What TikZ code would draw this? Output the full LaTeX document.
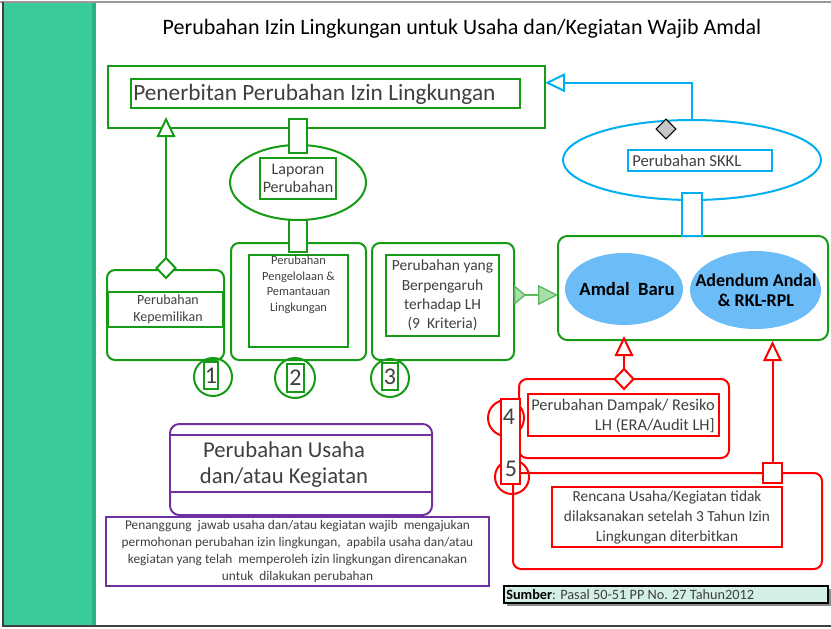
\documentclass[tikz,border=0pt]{standalone}
\usepackage{fontspec}
\setmainfont{Carlito}
\usetikzlibrary{arrows.meta,shapes.geometric,calc}
\definecolor{G}{RGB}{22,155,22}
\definecolor{C}{RGB}{0,176,240}
\definecolor{R}{RGB}{255,0,0}
\definecolor{P}{RGB}{112,48,160}
\definecolor{TX}{RGB}{64,64,64}
\definecolor{band}{RGB}{58,203,154}
\definecolor{bandedge}{RGB}{44,176,134}
\definecolor{ellfill}{RGB}{108,188,248}
\definecolor{gfill}{RGB}{168,222,168}
\definecolor{gline}{RGB}{90,185,95}
\definecolor{srcfill}{RGB}{212,238,232}
\newcommand\fsz[2]{\fontsize{#1}{#2}\selectfont}
\tikzset{
  sz/.style 2 args={minimum width={#1*0.75pt},minimum height={#2*0.75pt}},
  base/.style={inner sep=0pt,outer sep=0pt,line width=1.5pt},
  gbox/.style={base,draw=G,fill=white},
  cbox/.style={base,draw=C,fill=white},
  rbox/.style={base,draw=R,fill=white},
  pbox/.style={base,draw=P,fill=white},
  rnd/.style={rounded corners=6pt},
  oval/.style={ellipse,inner sep=0pt,outer sep=0pt},
  txt/.style={text=TX,inner sep=0pt,align=center},
  hollow/.style={-{Triangle[length=15pt,width=14pt,fill=white]}},
  dia/.style={diamond,inner sep=0pt,outer sep=0pt,line width=1.5pt,fill=white,sz={19}{20}},
}
\begin{document}
\begin{tikzpicture}[x=0.75pt,y=-0.75pt]
\useasboundingbox (0,0) rectangle (831,628);
% page and side band
\fill[white] (0,0) rectangle (831,628);
\fill[band] (3,3) rectangle (96,626);
\fill[bandedge] (92,3) rectangle (96,626);
\draw[gray!80,line width=1.5pt] (0,2) -- (831,2);
\draw[black!75,line width=1.2pt] (3,2) -- (3,626) -- (831,626);

% title
\node[text=black,inner sep=0pt,font=\fsz{16.5}{18}] (title) at (462,29) {Perubahan Izin Lingkungan untuk Usaha dan/Kegiatan Wajib Amdal};

% issuing box
\node[gbox,sz={437}{62}] (pen) at (326.5,97) {};
\node[gbox,sz={389}{29}] (peni) at (325.5,93.5) {};
\node[txt,anchor=west,font=\fsz{17.5}{19}] (pent) at (133,94) {Penerbitan Perubahan Izin Lingkungan};

% report ellipse and its two connectors
\node[gbox,oval,sz={136}{75}] (lap) at (298,182.5) {};
\node[gbox,sz={18}{34}] (lapup) at (298,136) {};
\node[gbox,sz={76}{41},font=\fsz{12}{14},text=TX,align=center] (lapi) at (298,178.5) {Laporan\\Perubahan};

% 1: ownership change
\node[gbox,rnd,sz={117}{90}] (b1) at (165.5,315) {};
\node[gbox,sz={115}{35}] (b1i) at (165,309.5) {};
\node[txt,font=\fsz{10.5}{12.75}] (b1t) at (168,309) {Perubahan\\Kepemilikan};
\node[dia,draw=G] (d1) at (166,268) {};
\draw[G,line width=1.5pt,hollow] (d1.north) -- ($(pen.south -| d1)+(0,-11)$);

% 2: management and monitoring change
\node[gbox,rnd,sz={135}{117}] (b2) at (298.5,301.5) {};
\node[gbox,sz={99}{92}] (b2i) at (298.5,301) {};
\node[txt,anchor=north,font=\fsz{9.3}{11.6}] (b2t) at (298.5,256) {Perubahan\\Pengelolaan \&\\Pemantauan\\Lingkungan};
\node[gbox,sz={18}{32}] (lapdn) at (298,236) {};

% 3: significant change
\node[gbox,rnd,sz={142}{117}] (b3) at (443,301.5) {};
\node[gbox,sz={113}{81},font=\fsz{11.6}{14.5},text=TX,align=center] (b3i) at (442.5,295.5) {Perubahan yang\\Berpengaruh\\terhadap LH\\(9~ Kriteria)};

% numbered markers 1-3
\node[base,draw=G,circle,minimum size=28.5pt] (c1) at (213,377) {};
\node[gbox,fill=none,sz={14}{27},font=\fsz{18}{18},text=TX] (n1) at (211,375.5) {1};
\node[base,draw=G,circle,minimum size=30pt] (c2) at (295,378) {};
\node[gbox,fill=none,sz={17}{28},font=\fsz{18}{18},text=TX] (n2) at (295.5,378) {2};
\node[base,draw=G,circle,minimum size=28.5pt] (c3) at (390,378) {};
\node[gbox,fill=none,sz={16}{27},font=\fsz{18}{18},text=TX] (n3) at (390,376.5) {3};

% Amdal container
\node[gbox,rounded corners=7pt,sz={270}{104}] (amdal) at (693,288) {};
\node[oval,fill=ellfill,sz={118}{72}] (baru) at (624,289) {};
\node[oval,fill=ellfill,sz={131}{78}] (aden) at (755.5,290) {};
\node[inner sep=0pt,font=\bfseries\fsz{14}{15}] (barut) at (627,289) {Amdal~ Baru};
\node[inner sep=0pt,font=\bfseries\fsz{13.5}{15},align=center] (adent) at (756,290) {Adendum Andal\\\& RKL-RPL};
\draw[gline,line width=1pt,fill=gfill,
  {Triangle[reversed,length=9pt,width=15pt,fill=gfill]}-{Triangle[length=15pt,width=15pt,fill=gfill]}]
  ($(b3.east)+(0,-6.5)$) -- ($(amdal.west)+(0,7)$);

% SKKL ellipse
\node[cbox,oval,sz={258}{80}] (skkl) at (692,160) {};
\node[cbox,sz={144}{21}] (skkli) at (700,160.5) {};
\node[txt,anchor=west,font=\fsz{12.5}{14}] (skklt) at (632,160.5) {Perubahan SKKL};
\node[diamond,draw=black,fill=black!22,line width=0.8pt,inner sep=0pt,sz={20}{20}] (d0) at (666,129) {};
\node[cbox,sz={20}{43}] (skkldn) at (692,214.5) {};
\draw[C,line width=1.5pt,-{Triangle[length=15pt,width=14pt,fill=white]}]
  (skkl.north) |- ($(pen.north east)!0.27!(pen.south east)$);

% 4 and 5: impact change and plan not carried out
\node[rbox,rnd,sz={309}{96}] (b5) at (667.5,521) {};
\node[rbox,sz={230}{60},font=\fsz{11.5}{15},text=TX,align=center] (b5i) at (667,517) {Rencana Usaha/Kegiatan tidak\\dilaksanakan setelah 3 Tahun Izin\\Lingkungan diterbitkan};
\node[rbox,sz={19}{20}] (sq5) at (772.5,473) {};
\draw[R,line width=1.5pt,hollow] (sq5.north) -- ($(amdal.south -| sq5)+(0,1)$);

\node[rbox,rnd,sz={210}{79}] (b4) at (624,418.5) {};
\node[rbox,sz={191}{42}] (b4i) at (623.5,415) {};
\node[txt,align=right,anchor=east,font=\fsz{12.3}{15}] (b4t) at (715,415.5) {Perubahan Dampak/ Resiko\\LH (ERA/Audit LH]};
\node[dia,draw=R] (d4) at (624,379) {};
\draw[R,line width=1.5pt,hollow] (d4.north) -- ($(amdal.south -| d4)+(0,-4)$);

\node[base,draw=R,circle,minimum size=27pt] (c4) at (506,418) {};
\node[base,draw=R,circle,minimum size=25.5pt] (c5) at (512,477) {};
\node[rbox,sz={19}{85}] (n45) at (510.5,441.5) {};
\node[txt,font=\fsz{18}{18}] (n4) at (509,417) {4};
\node[txt,font=\fsz{18}{18}] (n5) at (511,469) {5};

% business change
\node[pbox,rounded corners=7pt,sz={262}{91}] (pu) at (301,469.5) {};
\node[pbox,sz={262}{57}] (pui) at (301,463.5) {};
\node[txt,font=\fsz{17}{19}] (put) at (284,464.5) {Perubahan Usaha\\dan/atau Kegiatan};
\node[pbox,sz={383}{69},font=\fsz{10}{12.75},text=TX,align=center] (desc) at (297.5,551.5)
  {Penanggung~ jawab usaha dan/atau kegiatan wajib~ mengajukan\\permohonan perubahan izin lingkungan,~ apabila usaha dan/atau\\kegiatan yang telah~ memperoleh izin lingkungan direncanakan\\untuk~ dilakukan perubahan};

% source note
\fill[black!45] (507,589) rectangle (831,606);
\node[base,line width=0.8pt,draw=black,fill=srcfill,sz={324}{17}] (src) at (666,594.5) {};
\node[txt,anchor=west,font=\fsz{10.7}{12}] (srct) at (506,594.5) {\textcolor{black}{\bfseries Sumber}: Pasal 50-51 PP No. 27 Tahun2012};
\end{tikzpicture}
\end{document}
